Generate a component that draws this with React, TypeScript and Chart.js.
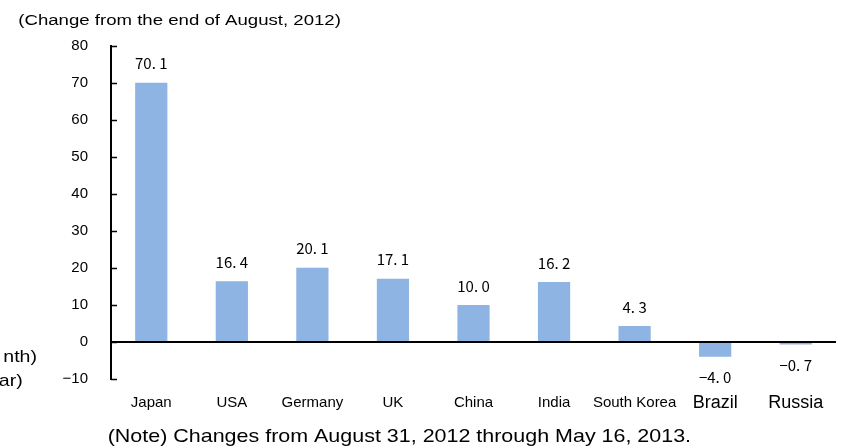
import React, { useEffect, useRef } from "react";
import { Chart, registerables } from "chart.js";

Chart.register(...registerables);

const categories: string[] = ["Japan", "USA", "Germany", "UK", "China", "India", "South Korea", "Brazil", "Russia"];
const changes: number[] = [70.1, 16.4, 20.1, 17.1, 10.0, 16.2, 4.3, -4.0, -0.7];
const largeLabelCategories: string[] = ["Brazil", "Russia"];
const yMin = -10;
const yMax = 80;
const yStep = 10;
const titleText = "(Change from the end of August, 2012)";
const noteText = "(Note) Changes from August 31, 2012 through May 16, 2013.";
const sideTexts: string[] = ["nth)", "ar)"];

const BAR_COLOR = "#8DB4E2";
const SANS = "'Liberation Sans', Arial, sans-serif";

function stretchText(
  ctx: CanvasRenderingContext2D,
  text: string,
  x: number,
  y: number,
  font: string,
  sx: number,
  align: CanvasTextAlign
) {
  ctx.save();
  ctx.translate(x, y);
  ctx.scale(sx, 1);
  ctx.font = font;
  ctx.fillStyle = "#000";
  ctx.textAlign = align;
  ctx.textBaseline = "alphabetic";
  ctx.fillText(text, 0, 0);
  ctx.restore();
}

const decorPlugin = {
  id: "decor",
  afterDraw(chart: any) {
    const ctx: CanvasRenderingContext2D = chart.ctx;
    const yScale = chart.scales.y;
    const area = chart.chartArea;

    // inward tick marks on the y axis
    ctx.save();
    ctx.strokeStyle = "#000";
    ctx.lineWidth = 1.5;
    for (const t of yScale.ticks) {
      const py = Math.round(yScale.getPixelForValue(t.value)) + 0.5;
      ctx.beginPath();
      ctx.moveTo(area.left, py);
      ctx.lineTo(area.left + 6, py);
      ctx.stroke();
    }
    ctx.restore();

    // data labels
    const meta = chart.getDatasetMeta(0);
    ctx.save();
    ctx.font = "15px 'Noto Sans CJK JP', sans-serif";
    ctx.fillStyle = "#000";
    ctx.textAlign = "center";
    ctx.textBaseline = "middle";
    meta.data.forEach((bar: any, i: number) => {
      const v = changes[i];
      const txt = v.toFixed(1).replace(".", ". ").replace("-", "\u2212");
      const y = v >= 0 ? bar.y - 19 : bar.y + 20.5;
      ctx.fillText(txt, bar.x, y);
    });
    ctx.restore();

    // titles and notes
    stretchText(ctx, titleText, 18.3, 25, `15.5px ${SANS}`, 1.2, "left");
    stretchText(ctx, noteText, 399.4, 441.7, `18.5px ${SANS}`, 1.16, "center");
    stretchText(ctx, sideTexts[0], 37, 362, `17px ${SANS}`, 1.15, "right");
    stretchText(ctx, sideTexts[1], 22.7, 385.5, `17px ${SANS}`, 1.15, "right");
  },
};

export default function App() {
  const canvasRef = useRef<HTMLCanvasElement | null>(null);

  useEffect(() => {
    document.body.style.margin = "0";
    const canvas = canvasRef.current;
    if (!canvas) return;
    const chart = new Chart(canvas, {
      type: "bar",
      data: {
        labels: categories,
        datasets: [
          {
            data: changes,
            backgroundColor: BAR_COLOR,
            borderWidth: 0,
            barPercentage: 0.4,
            categoryPercentage: 1,
          },
        ],
      },
      options: {
        responsive: false,
        animation: false,
        devicePixelRatio: 1,
        layout: { padding: { left: 0, right: 16, top: 46, bottom: 0 } },
        plugins: {
          legend: { display: false },
          tooltip: { enabled: false },
          title: { display: false },
        },
        scales: {
          x: {
            grid: { display: false },
            border: { display: false },
            ticks: {
              color: "#000",
              padding: 7,
              maxRotation: 0,
              autoSkip: false,
              font: (c: any) => {
                const label = categories[c.index];
                return largeLabelCategories.includes(label)
                  ? { family: SANS, size: 18, lineHeight: 0.95 }
                  : { family: SANS, size: 15, lineHeight: 1.2 };
              },
            },
            afterFit: (s: any) => {
              s.height = 68;
            },
          },
          y: {
            min: yMin,
            max: yMax,
            ticks: {
              stepSize: yStep,
              color: "#000",
              padding: 23,
              font: { family: SANS, size: 15 },
              callback: (v: any) => String(v).replace("-", "\u2212"),
            },
            grid: {
              drawTicks: false,
              lineWidth: 2,
              color: (c: any) => (c.tick && c.tick.value === 0 ? "#000" : "rgba(0,0,0,0)"),
            },
            border: { display: true, color: "#000", width: 2 },
            afterFit: (s: any) => {
              s.width = 111;
            },
          },
        },
      },
      plugins: [decorPlugin],
    });
    return () => chart.destroy();
  }, []);

  return (
    <div style={{ position: "absolute", left: 0, top: 0, width: 852, height: 447, background: "#fff" }}>
      <canvas ref={canvasRef} width={852} height={447} />
    </div>
  );
}
